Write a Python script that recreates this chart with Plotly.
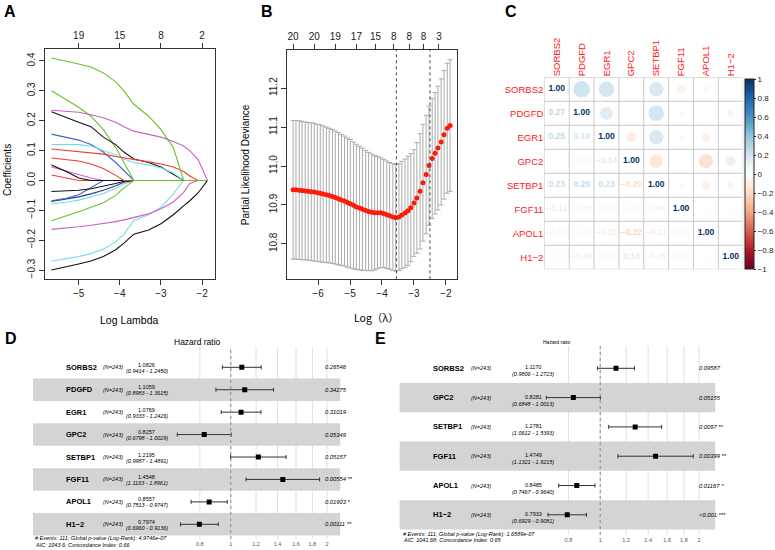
import plotly.graph_objects as go
from plotly.colors import sample_colorscale

W, H = 775, 550
FONT = "Liberation Sans"

# ---------------- data ----------------

# A: lasso coefficient paths
lasso_log_lambda = [-5.66, -5.3, -5.0, -4.7, -4.4, -4.1, -3.9, -3.66, -3.3, -3.0, -2.7, -2.45, -2.3, -2.1, -1.87]
green_a = [0.41, 0.40, 0.39, 0.38, 0.36, 0.33, 0.30, 0.255, 0.215, 0.17, 0.11, 0, 0, 0, 0]
green_b = [0.30, 0.27, 0.245, 0.215, 0.17, 0.11, 0.06, 0, 0, 0, 0, 0, 0, 0, 0]
green_c = [-0.135, -0.12, -0.105, -0.09, -0.075, -0.05, -0.025, 0, 0, 0, 0, 0, 0, 0, 0]
magenta_a = [0.235, 0.232, 0.228, 0.22, 0.21, 0.195, 0.18, 0.165, 0.155, 0.145, 0.13, 0.115, 0.10, 0.07, 0]
magenta_b = [0.045, 0.032, 0.02, 0.008, 0, 0, 0, 0, 0, 0, 0, 0, 0, 0, 0]
magenta_c = [-0.164, -0.16, -0.155, -0.15, -0.145, -0.138, -0.132, -0.124, -0.112, -0.095, -0.072, -0.04, -0.01, 0, 0]
black_a = [0.23, 0.21, 0.195, 0.18, 0.145, 0.12, 0.095, 0.072, 0.06, 0.045, 0.02, 0, 0, 0, 0]
black_b = [0.052, 0.03, 0.008, 0, 0, 0, 0, 0, 0, 0, 0, 0, 0, 0, 0]
black_c = [-0.037, -0.036, -0.033, -0.028, -0.02, -0.01, -0.003, 0, 0, 0, 0, 0, 0, 0, 0]
black_d = [-0.30, -0.29, -0.28, -0.27, -0.255, -0.232, -0.21, -0.18, -0.166, -0.145, -0.115, -0.085, -0.068, -0.042, 0]
blue_a = [0.155, 0.145, 0.135, 0.12, 0.095, 0.06, 0.033, 0, 0, 0, 0, 0, 0, 0, 0]
navy_a = [-0.068, -0.06, -0.048, -0.025, 0, 0, 0, 0, 0, 0, 0, 0, 0, 0, 0]
navy_b = [-0.07, -0.063, -0.055, -0.045, -0.033, -0.018, -0.006, 0, 0, 0, 0, 0, 0, 0, 0]
cyan_a = [0.12, 0.12, 0.12, 0.115, 0.10, 0.085, 0.072, 0.06, 0.052, 0.042, 0.025, 0, 0, 0, 0]
cyan_b = [-0.078, -0.073, -0.066, -0.055, -0.044, -0.026, -0.012, 0, 0, 0, 0, 0, 0, 0, 0]
cyan_c = [-0.27, -0.262, -0.255, -0.245, -0.23, -0.205, -0.18, -0.134, -0.115, -0.09, -0.045, 0, 0, 0, 0]
red_a = [0.105, 0.10, 0.098, 0.094, 0.088, 0.08, 0.075, 0.07, 0.062, 0.055, 0.045, 0.03, 0.015, 0, 0]
red_b = [0.075, 0.07, 0.065, 0.055, 0.04, 0.017, 0, 0, 0, 0, 0, 0, 0, 0, 0]
red_c = [0.018, 0.008, 0, 0, 0, 0, 0, 0, 0, 0, 0, 0, 0, 0, 0]
a_top_ticks = [-5, -4, -3, -2]
a_top_labels = ["19", "15", "8", "2"]

# B: cross-validation curve
cv_log_lambda = [-6.78, -6.69, -6.59, -6.50, -6.40, -6.31, -6.21, -6.12, -6.02, -5.93,
                 -5.84, -5.74, -5.65, -5.55, -5.46, -5.36, -5.27, -5.17, -5.08, -4.99,
                 -4.89, -4.80, -4.70, -4.61, -4.51, -4.42, -4.32, -4.23, -4.14, -4.04,
                 -3.95, -3.85, -3.76, -3.66, -3.57, -3.47, -3.38, -3.28, -3.19, -3.10,
                 -3.00, -2.91, -2.81, -2.72, -2.62, -2.53, -2.43, -2.34, -2.25, -2.15,
                 -2.06, -1.96, -1.87]
cv_mean = [10.939, 10.939, 10.938, 10.937, 10.936, 10.935, 10.934, 10.933, 10.931, 10.930,
           10.928, 10.926, 10.924, 10.922, 10.919, 10.916, 10.913, 10.910, 10.906, 10.903,
           10.899, 10.895, 10.892, 10.889, 10.886, 10.883, 10.881, 10.880, 10.880, 10.880,
           10.878, 10.875, 10.872, 10.869, 10.867, 10.869, 10.874, 10.879, 10.885, 10.893,
           10.905, 10.918, 10.935, 10.957, 10.978, 11.001, 11.019, 11.033, 11.046, 11.062,
           11.080, 11.097, 11.104]
cv_se = [0.178, 0.178, 0.178, 0.178, 0.177, 0.177, 0.177, 0.177, 0.176, 0.176,
         0.175, 0.174, 0.173, 0.172, 0.171, 0.170, 0.168, 0.167, 0.166, 0.165,
         0.163, 0.161, 0.159, 0.157, 0.154, 0.152, 0.150, 0.147, 0.144, 0.141,
         0.139, 0.138, 0.137, 0.137, 0.137, 0.137, 0.138, 0.139, 0.140, 0.139,
         0.137, 0.142, 0.148, 0.150, 0.152, 0.153, 0.154, 0.156, 0.159, 0.162,
         0.165, 0.167, 0.169]
lambda_min = -3.55
lambda_1se = -2.50
b_top_ticks = [-6.78, -6.12, -5.46, -4.80, -4.20, -3.63, -3.15, -2.70, -2.22]
b_top_labels = ["20", "20", "19", "17", "15", "8", "8", "8", "3"]
b_y_ticks = [10.8, 10.9, 11.0, 11.1, 11.2]

# C: correlation matrix (lower triangle, row by row)
corr_genes = ["SORBS2", "PDGFD", "EGR1", "GPC2", "SETBP1", "FGF11", "APOL1", "H1−2"]
corr_lower = [
    [1.00],
    [0.27, 1.00],
    [0.25, 0.19, 1.00],
    [0.01, -0.04, -0.14, 1.00],
    [0.23, 0.25, 0.23, -0.20, 1.00],
    [-0.11, -0.06, -0.05, -0.03, 0.06, 1.00],
    [-0.07, -0.03, -0.11, -0.22, -0.11, 0.04, 1.00],
    [-0.02, -0.09, 0.03, 0.14, -0.09, -0.04, -0.02, 1.00],
]
cbar_ticks = [1, 0.8, 0.6, 0.4, 0.2, 0, -0.2, -0.4, -0.6, -0.8, -1]

# D: multivariate Cox, 8 genes
n_total = 243
d_genes = ["SORBS2", "PDGFD", "EGR1", "GPC2", "SETBP1", "FGF11", "APOL1", "H1−2"]
d_hr = [1.0826, 1.1059, 1.0769, 0.8257, 1.2195, 1.4548, 0.8557, 0.7974]
d_lo = [0.9414, 0.8983, 0.9333, 0.6798, 0.9987, 1.1163, 0.7513, 0.6960]
d_hi = [1.2450, 1.3615, 1.2426, 1.0029, 1.4891, 1.8961, 0.9747, 0.9136]
d_p = ["0.26546", "0.34275", "0.31019", "0.05349", "0.05157", "0.00554 **", "0.01903 *", "0.00111 **"]
d_note = ["# Events: 111; Global p-value (Log-Rank): 4.9746e-07", "AIC: 1043.6; Concordance Index: 0.66"]

# E: multivariate Cox, 6 genes
e_genes = ["SORBS2", "GPC2", "SETBP1", "FGF11", "APOL1", "H1−2"]
e_hr = [1.1170, 0.8281, 1.2781, 1.4749, 0.8485, 0.7933]
e_lo = [0.9806, 0.6848, 1.0612, 1.1321, 0.7467, 0.6929]
e_hi = [1.2723, 1.0013, 1.5393, 1.9215, 0.9640, 0.9081]
e_p = ["0.09587", "0.05155", "0.0097 **", "0.00399 **", "0.01167 *", "<0.001 ***"]
e_note = ["# Events: 111; Global p-value (Log-Rank): 1.6589e-07", "AIC: 1041.68; Concordance Index: 0.65"]

hr_ticks = [0.8, 1, 1.2, 1.4, 1.6, 1.8, 2]

# ---------------- helpers ----------------
GREEN, MAGENTA, BLACK, BLUE, NAVY, CYAN, RED = "#66c22a", "#cc5fcc", "#111111", "#4466bb", "#2a3a8c", "#7fd8ea", "#f03c32"
RDBU = ["#67001F", "#B2182B", "#D6604D", "#F4A582", "#FDDBC7", "#FFFFFF",
        "#D1E5F0", "#92C5DE", "#4393C3", "#2166AC", "#053061"]
corr_scale = [[i / 10, c] for i, c in enumerate(RDBU)]


def px(x):
    return x / W


def py(y):
    return 1 - y / H


def minus(s):
    return s.replace("-", "−")


annotations = []
shapes = []


def note(text, x, y, size, xref="paper", yref="paper", xanchor="center", color="#000",
         angle=0, yshift=0, family=FONT):
    annotations.append(dict(text=text, x=x, y=y, xref=xref, yref=yref, showarrow=False,
                            xanchor=xanchor, yanchor="middle", textangle=angle, yshift=yshift,
                            font=dict(family=family, size=size, color=color)))


fig = go.Figure()

# ---------------- A ----------------
paths = [(black_d, BLACK), (cyan_c, CYAN), (magenta_c, MAGENTA), (green_c, GREEN),
         (cyan_b, CYAN), (navy_b, NAVY), (navy_a, BLUE), (black_c, BLACK),
         (red_c, RED), (magenta_b, MAGENTA), (black_b, BLACK), (red_b, RED),
         (blue_a, BLUE), (green_b, GREEN), (black_a, BLACK), (cyan_a, CYAN),
         (red_a, RED), (green_a, GREEN), (magenta_a, MAGENTA)]
for vals, col in paths:
    fig.add_trace(go.Scatter(x=lasso_log_lambda, y=vals, mode="lines", line=dict(color=col, width=1.1),
                             xaxis="x", yaxis="y", showlegend=False, hoverinfo="skip"))
fig.add_trace(go.Scatter(x=[], y=[], xaxis="x2", yaxis="y", showlegend=False))

# ---------------- B ----------------
fig.add_trace(go.Scatter(
    x=cv_log_lambda, y=cv_mean, mode="markers",
    marker=dict(color="#ff1a0a", size=5),
    error_y=dict(type="data", array=cv_se, color="#aaaaaa", thickness=1, width=2.5),
    xaxis="x3", yaxis="y3", showlegend=False))
fig.add_trace(go.Scatter(x=[], y=[], xaxis="x4", yaxis="y3", showlegend=False))
for lv in (lambda_min, lambda_1se):
    shapes.append(dict(type="line", xref="x3", yref="y3 domain", x0=lv, x1=lv, y0=0, y1=1,
                       line=dict(color="#444", width=1, dash="dot")))

# ---------------- C ----------------
ng = len(corr_genes)
cx, cy, cv = [], [], []
tx, ty, tv = [], [], []
for r in range(ng):
    for c in range(r + 1):
        v = corr_lower[r][c]
        tx.append(c)
        ty.append(r)
        tv.append(v)
        if c != r:
            cx.append(r)
            cy.append(c)
            cv.append(v)
for k in range(ng + 1):
    shapes.append(dict(type="line", xref="x5", yref="y5", x0=k - 0.5, x1=k - 0.5, y0=-0.5, y1=ng - 0.5,
                       line=dict(color="#c8c8c8", width=1), layer="below"))
    shapes.append(dict(type="line", xref="x5", yref="y5", y0=k - 0.5, y1=k - 0.5, x0=-0.5, x1=ng - 0.5,
                       line=dict(color="#c8c8c8", width=1), layer="below"))
fig.add_trace(go.Scatter(
    x=cx, y=cy, mode="markers",
    marker=dict(size=[44 * abs(v) ** 0.75 for v in cv], color=cv, colorscale=corr_scale,
                cmin=-1, cmax=1, line=dict(width=0),
                colorbar=dict(x=px(751.5), xanchor="left", y=py(174), yanchor="middle",
                              len=190 / H, lenmode="fraction", thickness=9, xpad=0, ypad=0,
                              outlinecolor="#222", outlinewidth=1,
                              tickvals=cbar_ticks, ticktext=[minus(f"{t:g}") for t in cbar_ticks],
                              ticks="outside", ticklen=2, tickcolor="#222",
                              tickfont=dict(family=FONT, size=8, color="#222"))),
    xaxis="x5", yaxis="y5", showlegend=False, hoverinfo="skip"))
text_cols = sample_colorscale(corr_scale, [(v + 1) / 2 for v in tv])
fig.add_trace(go.Scatter(
    x=tx, y=ty, mode="text", text=[f"<b>{minus(f'{v:.2f}')}</b>" for v in tv],
    textfont=dict(family=FONT, size=8.5, color=text_cols),
    xaxis="x5", yaxis="y5", showlegend=False, hoverinfo="skip"))


# ---------------- D / E forest plots ----------------
def forest(genes, hr, lo, hi, pvals, notes, xa, ya, xpos, hr_shift, ci_shift, title, title_x, title_size,
           note_x, note_y):
    n = len(genes)
    # grid lines first, then the shaded bands over them (both under the marks)
    for t in hr_ticks:
        shapes.append(dict(type="line", xref=xa, yref=f"{ya} domain", x0=t, x1=t, y0=0, y1=1,
                           line=dict(color="#e0e0e0", width=1), layer="below"))
    for i in range(n):
        if i % 2 == 1:
            shapes.append(dict(type="rect", xref=f"{xa} domain", yref=ya, x0=0, x1=1, y0=i - 0.5, y1=i + 0.5,
                               fillcolor="#d4d4d4", line=dict(width=0), layer="below"))
    shapes.append(dict(type="line", xref=xa, yref=f"{ya} domain", x0=1, x1=1, y0=0, y1=1,
                       line=dict(color="#8a8a8a", width=1, dash="dot"), layer="above"))
    fig.add_trace(go.Scatter(
        x=hr, y=list(range(n)), mode="markers",
        marker=dict(symbol="square", size=5, color="#000"),
        error_x=dict(type="data", symmetric=False, array=[h - m for h, m in zip(hi, hr)],
                     arrayminus=[m - l for m, l in zip(hr, lo)], color="#333", thickness=1, width=2),
        xaxis=xa, yaxis=ya, showlegend=False))
    gx, nx, hx, ppx = xpos
    for i in range(n):
        note(f"<b>{genes[i]}</b>", px(gx), i, 7.5, yref=ya, xanchor="left")
        note(f"<i>(N={n_total})</i>", px(nx), i, 5.5, yref=ya, xanchor="left")
        note(f"{hr[i]:.4f}", px(hx), i, 5.5, yref=ya, yshift=hr_shift)
        note(f"<i>({lo[i]:.4f} - {hi[i]:.4f})</i>", px(hx), i, 5.5, yref=ya, yshift=ci_shift)
        note(f"<i>{pvals[i]}</i>", px(ppx), i, 5.8, yref=ya, xanchor="left")
    note(title, px(title_x), py(341.7), title_size)
    for k, t in enumerate(notes):
        note(f"<i>{t}</i>", px(note_x), py(note_y[k]), 5.5, xanchor="left")


forest(d_genes, d_hr, d_lo, d_hi, d_p, d_note, "x6", "y6", (64.3, 101.7, 148.3, 325.7), 2.5, -3.5,
       "Hazard ratio", 199, 8.5, 33.3, (538.3, 544.5))
forest(e_genes, e_hr, e_lo, e_hi, e_p, e_note, "x7", "y7", (435, 473.3, 538.3, 703.3), 1, -6,
       "Hazard ratio", 562, 5, 405, (534.0, 539.5))

# ---------------- text labels ----------------
note("<b>A</b>", px(10), py(11), 16)
note("<b>B</b>", px(269), py(11), 16)
note("<b>C</b>", px(516), py(11), 16)
note("<b>D</b>", px(11.5), py(338.5), 16)
note("<b>E</b>", px(384), py(338), 16)
note("Coefficients", px(7), py(170), 10, angle=-90)
note("Log Lambda", px(131), py(320), 10.5)
note("Partial Likelihood Deviance", px(248), py(164.5), 10, angle=-90)
note("Log（λ）", px(380), py(317), 10.5, family="Noto Sans CJK SC")

# ---------------- axes ----------------
frame = dict(showline=True, mirror=True, linecolor="#333", linewidth=1, ticks="outside", ticklen=5,
             tickcolor="#333", showgrid=False, zeroline=False,
             tickfont=dict(family=FONT, size=10, color="#222"))
top = dict(side="top", ticks="outside", ticklen=5, tickcolor="#333", showgrid=False, zeroline=False,
           showline=False, tickfont=dict(family=FONT, size=10, color="#222"))
forest_x = dict(type="log", tickvals=hr_ticks, ticktext=[f"{t:g}" for t in hr_ticks], showgrid=False,
                zeroline=False, showline=False, ticks="",
                tickfont=dict(family=FONT, size=5.5, color="#555"))
hidden_y = dict(showticklabels=False, showgrid=False, zeroline=False, showline=False, ticks="")

fig.update_layout(
    width=W, height=H, margin=dict(l=0, r=0, t=0, b=0), autosize=False,
    paper_bgcolor="white", plot_bgcolor="white", showlegend=False,
    xaxis=dict(frame, domain=[px(45), px(217)], range=[-5.827, -1.687], anchor="y",
               tickvals=[-5, -4, -3, -2], ticktext=["−5", "−4", "−3", "−2"]),
    xaxis2=dict(top, overlaying="x", anchor="y", range=[-5.827, -1.687],
                tickvals=a_top_ticks, ticktext=a_top_labels),
    yaxis=dict(frame, domain=[py(279), py(49)], range=[-0.33, 0.44], anchor="x", tickangle=-90,
               tickvals=[-0.3, -0.2, -0.1, 0, 0.1, 0.2, 0.3, 0.4],
               ticktext=["−0.3", "−0.2", "−0.1", "0.0", "0.1", "0.2", "0.3", "0.4"]),
    xaxis3=dict(frame, domain=[px(289.3), px(461)], range=[-6.98, -1.66], anchor="y3",
                tickvals=[-6, -5, -4, -3, -2], ticktext=["−6", "−5", "−4", "−3", "−2"]),
    xaxis4=dict(top, overlaying="x3", anchor="y3", range=[-6.98, -1.66],
                tickvals=b_top_ticks, ticktext=b_top_labels),
    yaxis3=dict(frame, domain=[py(279.3), py(50)], range=[10.709, 11.298], anchor="x3", tickangle=-90,
                tickvals=b_y_ticks, ticktext=[f"{t:.1f}" for t in b_y_ticks]),
    xaxis5=dict(domain=[px(549.3), px(750)], range=[-0.5, ng - 0.5], anchor="y5", side="top",
                tickvals=list(range(ng)), ticktext=corr_genes, tickangle=-90, ticks="",
                showgrid=False, zeroline=False, showline=False,
                tickfont=dict(family=FONT, size=9.5, color="#ff2020")),
    yaxis5=dict(domain=[py(269.3), py(77.3)], range=[ng - 0.5, -0.5], anchor="x5",
                tickvals=list(range(ng)), ticktext=corr_genes, ticks="",
                showgrid=False, zeroline=False, showline=False,
                tickfont=dict(family=FONT, size=9.5, color="#ff2020")),
    xaxis6=dict(forest_x, domain=[px(33.3), px(343.3)], range=[-0.619, 0.3424], anchor="y6"),
    yaxis6=dict(hidden_y, domain=[py(539), py(347)], range=[7.655, -0.905], anchor="x6"),
    xaxis7=dict(forest_x, domain=[px(403.3), px(721.7)], range=[-0.6115, 0.3505], anchor="y7"),
    yaxis7=dict(hidden_y, domain=[py(535), py(346)], range=[5.689, -0.761], anchor="x7"),
    annotations=annotations,
    shapes=shapes,
)

fig.write_html("out.html", config={"displayModeBar": False},
               post_script="document.body.style.margin='0px';")
